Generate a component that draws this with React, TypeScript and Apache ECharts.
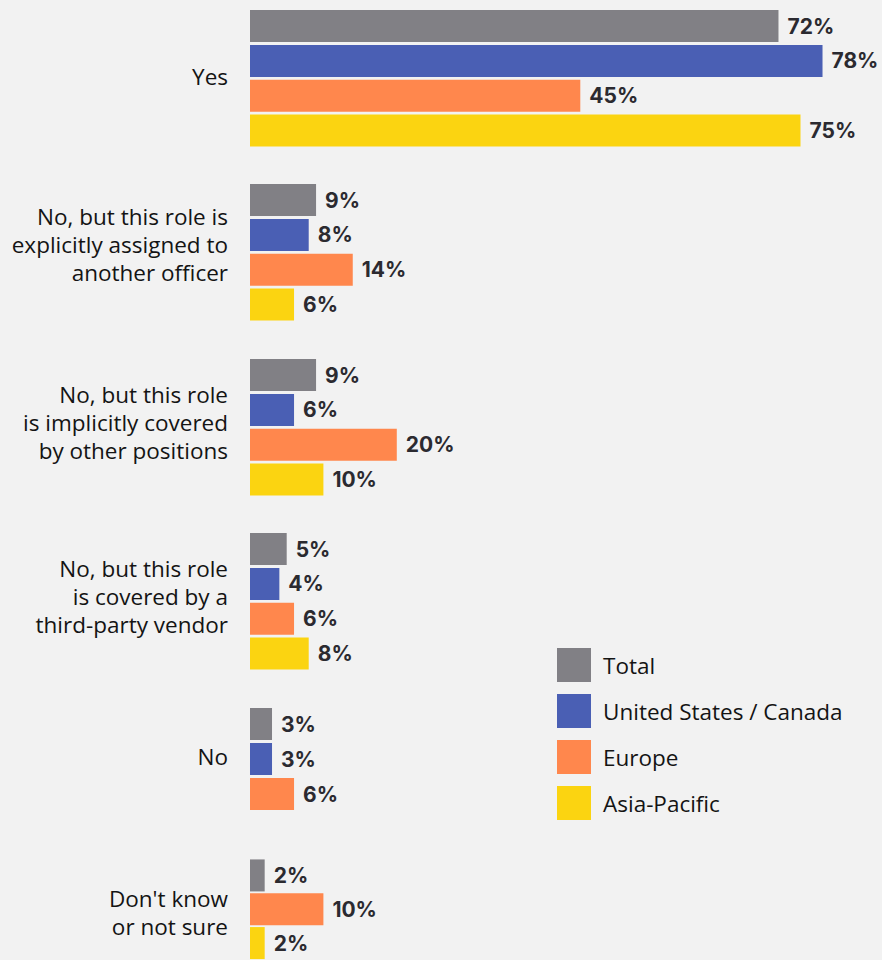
import React, { useEffect, useRef } from "react";
import * as echarts from "echarts";

// ---- data ----
const categories = [
  "Yes",
  "No, but this role is\nexplicitly assigned to\nanother officer",
  "No, but this role\nis implicitly covered\nby other positions",
  "No, but this role\nis covered by a\nthird-party vendor",
  "No",
  "Don't know\nor not sure",
];
const regions = ["Total", "United States / Canada", "Europe", "Asia-Pacific"];
const totalValues = [72, 9, 9, 5, 3, 2];
const usCanadaValues: (number | null)[] = [78, 8, 6, 4, 3, null];
const europeValues = [45, 14, 20, 6, 6, 10];
const asiaPacificValues: (number | null)[] = [75, 6, 10, 8, null, 2];

// ---- styles / layout ----
const colors = ["#818085", "#4a5fb4", "#ff874d", "#fbd411"];
const groupTops = [8.6, 182.6, 357.6, 531.6, 706.5, 858.5];
const rowHeights = [34.85, 34.85, 34.85, 34.85, 35, 36.2];
const labelCenters = [76, 244.5, 422.5, 596.5, 756, 912];
const GRID_LEFT = 250;
const X_MAX = 80;
const PX_PER_UNIT = 7.34;

export default function App() {
  const ref = useRef<HTMLDivElement>(null);

  useEffect(() => {
    document.body.style.margin = "0";
    document.body.style.background = "#f2f2f2";
    const chart = echarts.init(ref.current!, undefined, { renderer: "svg" });
    const seriesValues = [totalValues, usCanadaValues, europeValues, asiaPacificValues];

    const grids: any[] = [];
    const xAxes: any[] = [];
    const yAxes: any[] = [];
    const series: any[] = [];

    categories.forEach((cat, g) => {
      const present = regions.filter((_, r) => seriesValues[r][g] != null);
      // bar grid
      const barGrid = grids.length;
      grids.push({
        left: GRID_LEFT,
        top: groupTops[g],
        width: X_MAX * PX_PER_UNIT,
        height: rowHeights[g] * present.length,
      });
      xAxes.push({ type: "value", gridIndex: barGrid, min: 0, max: X_MAX, show: false });
      const regAxisIndex = yAxes.length;
      yAxes.push({
        type: "category",
        gridIndex: barGrid,
        data: present,
        inverse: true,
        show: false,
      });
      regions.forEach((name, r) => {
        const v = seriesValues[r][g];
        if (v == null) return;
        series.push({
          name,
          type: "bar",
          xAxisIndex: barGrid,
          yAxisIndex: regAxisIndex,
          stack: "grp" + g,
          barWidth: 32,
          itemStyle: { color: colors[r] },
          label: {
            show: true,
            position: "right",
            distance: 9,
            formatter: "{c}%",
            fontFamily: "Inter",
            fontWeight: "bold",
            fontSize: 21,
            color: "#2b2a30",
          },
          data: present.map((p) => (p === name ? v : "-")),
        });
      });

      // label grid (category label of the group)
      const labelGrid = grids.length;
      grids.push({
        left: GRID_LEFT,
        top: labelCenters[g] - 20,
        width: 10,
        height: 40,
      });
      xAxes.push({ type: "value", gridIndex: labelGrid, min: 0, max: 1, show: false });
      yAxes.push({
        type: "category",
        gridIndex: labelGrid,
        data: [cat],
        position: "left",
        axisLine: { show: false },
        axisTick: { show: false },
        splitLine: { show: false },
        axisLabel: {
          margin: 22,
          fontSize: 22.5,
          lineHeight: 28,
          color: "#141414",
          fontFamily: "Open Sans",
          align: "right",
        },
      });
    });

    chart.setOption({
      animation: false,
      backgroundColor: "#f2f2f2",
      color: colors,
      legend: {
        data: regions,
        orient: "vertical",
        left: 557,
        top: 648,
        padding: 0,
        itemWidth: 34,
        itemHeight: 34,
        itemGap: 12,
        icon: "rect",
        selectedMode: false,
        textStyle: {
          fontFamily: "Open Sans",
          fontSize: 22.5,
          color: "#141414",
          padding: [0, 0, 0, 7],
        },
      },
      grid: grids,
      xAxis: xAxes,
      yAxis: yAxes,
      series,
    });
    return () => chart.dispose();
  }, []);

  return <div ref={ref} style={{ width: 882, height: 960 }} />;
}
